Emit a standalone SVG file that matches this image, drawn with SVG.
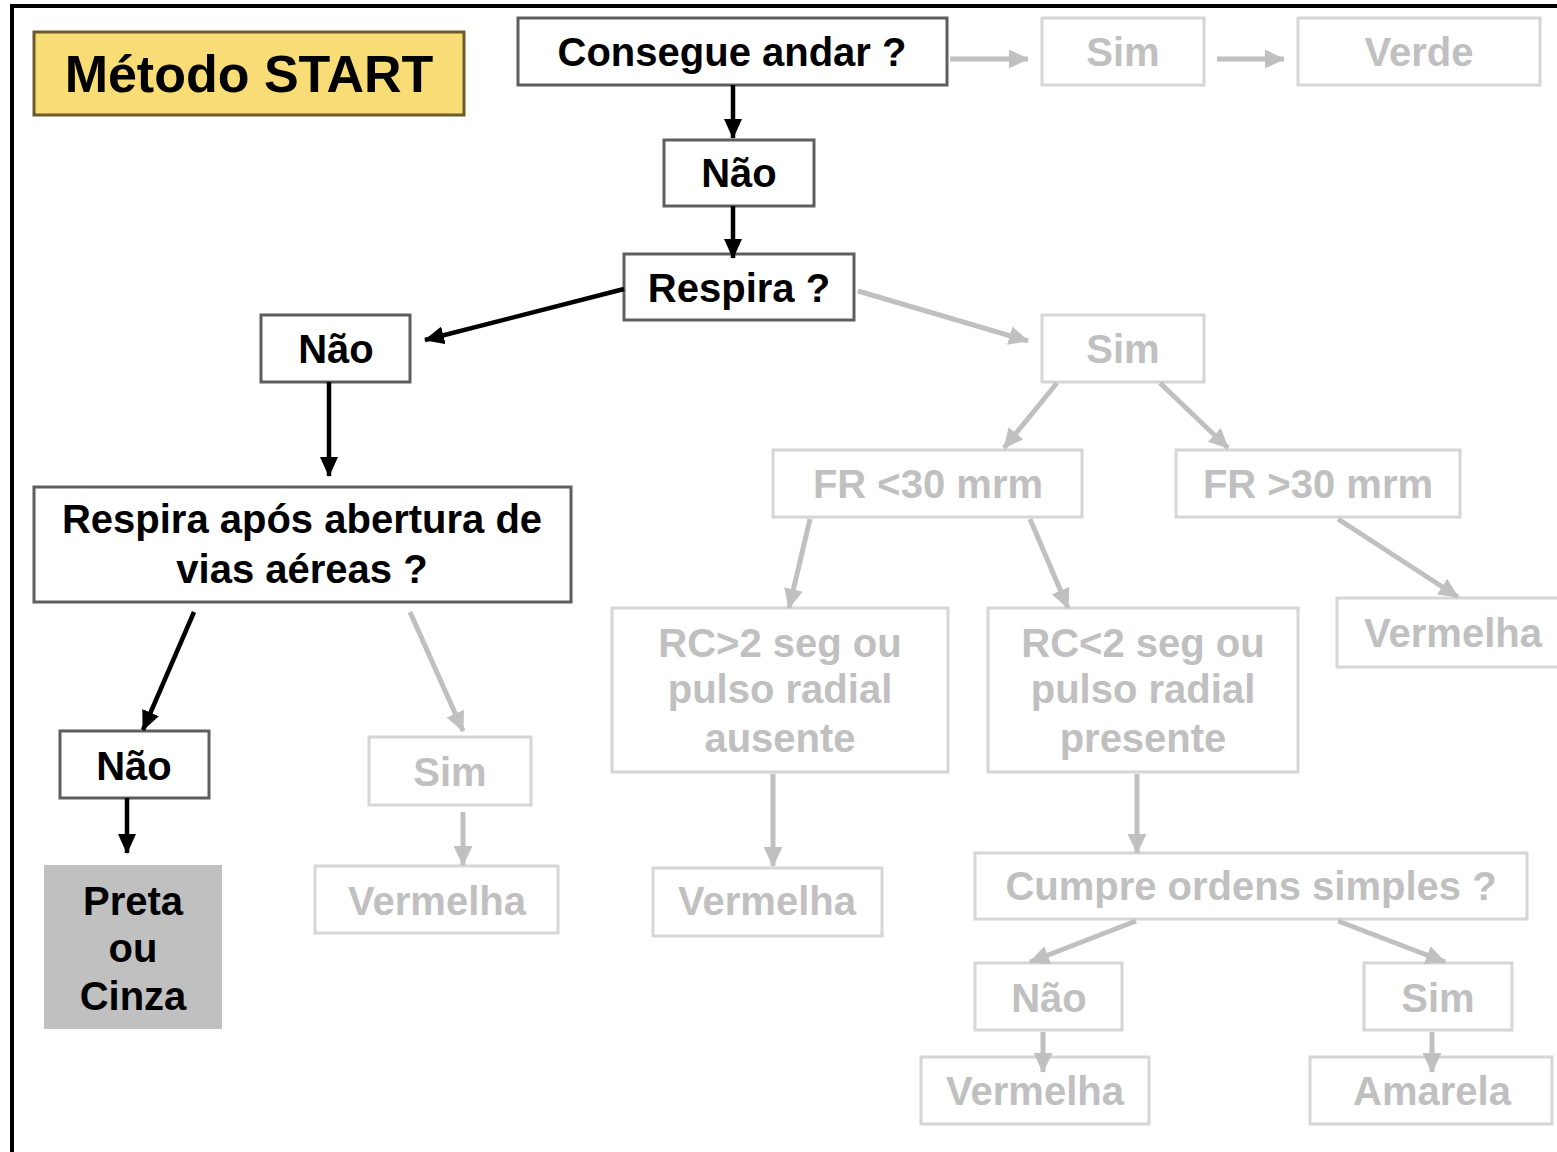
<svg xmlns="http://www.w3.org/2000/svg" width="1557" height="1152" viewBox="0 0 1557 1152">
<defs>
<marker id="ab" markerUnits="userSpaceOnUse" markerWidth="20" markerHeight="18" refX="19" refY="9" orient="auto" viewBox="0 0 20 18"><path d="M0,0 L20,9 L0,18 Z" fill="#000"/></marker>
<marker id="ag" markerUnits="userSpaceOnUse" markerWidth="20" markerHeight="19" refX="19" refY="9.5" orient="auto" viewBox="0 0 20 19"><path d="M0,0 L20,9.5 L0,19 Z" fill="#c0c0c0"/></marker>
<style>
text{font-family:"Liberation Sans",Arial,sans-serif;font-weight:bold;font-size:40px;text-anchor:middle}
.bk rect{fill:#fff;stroke:#5e5e5e;stroke-width:3}
.bk text{fill:#000}
.gr rect{fill:#fff;stroke:#d6d6d6;stroke-width:3}
.gr text{fill:#c0c0c0}
.cb{stroke:#000;stroke-width:4.5;fill:none;marker-end:url(#ab)}
.cg{stroke:#c0c0c0;stroke-width:5;fill:none;marker-end:url(#ag)}
</style>
</defs>
<rect x="0" y="0" width="1557" height="1152" fill="#fff"/>
<rect x="12" y="6" width="1600" height="1200" fill="none" stroke="#000" stroke-width="4"/>

<g id="title"><rect x="34" y="32" width="430" height="83" fill="#f8dc75" stroke="#6b5a2a" stroke-width="3"/><text x="249" y="92" style="font-size:52px">Método START</text></g>

<g id="consegue" class="bk"><rect x="518" y="18" width="429" height="67"/><text x="732" y="66">Consegue andar ?</text></g>
<g id="nao1" class="bk"><rect x="664" y="140" width="150" height="66"/><text x="739" y="187">Não</text></g>
<g id="respira" class="bk"><rect x="624" y="254" width="230" height="66"/><text x="739" y="302">Respira ?</text></g>
<g id="nao2" class="bk"><rect x="261" y="315" width="149" height="67"/><text x="336" y="363">Não</text></g>
<g id="respira_apos" class="bk"><rect x="34" y="487" width="537" height="115"/><text x="302" y="533">Respira após abertura de</text><text x="302" y="583">vias aéreas ?</text></g>
<g id="nao3" class="bk"><rect x="60" y="731" width="149" height="67"/><text x="134" y="780">Não</text></g>
<g id="preta"><rect x="44" y="865" width="178" height="164" fill="#c0c0c0"/><text x="133" y="915" fill="#000">Preta</text><text x="133" y="962" fill="#000">ou</text><text x="133" y="1010" fill="#000">Cinza</text></g>

<g id="sim_top" class="gr"><rect x="1042" y="18" width="162" height="67"/><text x="1123" y="66">Sim</text></g>
<g id="verde" class="gr"><rect x="1298" y="18" width="242" height="67"/><text x="1419" y="66">Verde</text></g>
<g id="sim_mid" class="gr"><rect x="1042" y="315" width="162" height="67"/><text x="1123" y="363">Sim</text></g>
<g id="fr_lt" class="gr"><rect x="773" y="450" width="309" height="67"/><text x="928" y="498">FR &lt;30 mrm</text></g>
<g id="fr_gt" class="gr"><rect x="1176" y="450" width="284" height="67"/><text x="1318" y="498">FR &gt;30 mrm</text></g>
<g id="vermelha_fr" class="gr"><rect x="1337" y="598" width="230" height="69"/><text x="1453" y="647">Vermelha</text></g>
<g id="rc_gt" class="gr"><rect x="612" y="608" width="336" height="164"/><text x="780" y="657">RC&gt;2 seg ou</text><text x="780" y="703">pulso radial</text><text x="780" y="752">ausente</text></g>
<g id="rc_lt" class="gr"><rect x="988" y="608" width="310" height="164"/><text x="1143" y="657">RC&lt;2 seg ou</text><text x="1143" y="703">pulso radial</text><text x="1143" y="752">presente</text></g>
<g id="sim_left" class="gr"><rect x="369" y="737" width="162" height="68"/><text x="450" y="786">Sim</text></g>
<g id="vermelha_left" class="gr"><rect x="315" y="866" width="243" height="67"/><text x="437" y="915">Vermelha</text></g>
<g id="vermelha_rc" class="gr"><rect x="653" y="868" width="229" height="68"/><text x="767" y="915">Vermelha</text></g>
<g id="cumpre" class="gr"><rect x="975" y="853" width="552" height="66"/><text x="1251" y="900">Cumpre ordens simples ?</text></g>
<g id="nao_bottom" class="gr"><rect x="975" y="963" width="147" height="67"/><text x="1049" y="1012">Não</text></g>
<g id="sim_bottom" class="gr"><rect x="1364" y="963" width="148" height="67"/><text x="1438" y="1012">Sim</text></g>
<g id="vermelha_bottom" class="gr"><rect x="921" y="1057" width="228" height="67"/><text x="1035" y="1105">Vermelha</text></g>
<g id="amarela" class="gr"><rect x="1310" y="1057" width="242" height="67"/><text x="1432" y="1105">Amarela</text></g>

<g id="connectors">
<line class="cb" x1="733" y1="85" x2="733" y2="138"/>
<line class="cb" x1="733" y1="206" x2="733" y2="258"/>
<line class="cb" x1="624" y1="289" x2="425" y2="340"/>
<line class="cb" x1="329" y1="382" x2="329" y2="476"/>
<line class="cb" x1="194" y1="612" x2="143" y2="730"/>
<line class="cb" x1="127" y1="798" x2="127" y2="853"/>
<line class="cg" x1="950" y1="59" x2="1028" y2="59"/>
<line class="cg" x1="1217" y1="59" x2="1284" y2="59"/>
<line class="cg" x1="858" y1="291" x2="1028" y2="341"/>
<line class="cg" x1="1057" y1="383" x2="1004" y2="448"/>
<line class="cg" x1="1160" y1="383" x2="1228" y2="448"/>
<line class="cg" x1="810" y1="519" x2="789" y2="608"/>
<line class="cg" x1="1030" y1="519" x2="1068" y2="608"/>
<line class="cg" x1="1338" y1="519" x2="1458" y2="597"/>
<line class="cg" x1="410" y1="612" x2="463" y2="731"/>
<line class="cg" x1="463" y1="812" x2="463" y2="865"/>
<line class="cg" x1="773" y1="774" x2="773" y2="866"/>
<line class="cg" x1="1137" y1="774" x2="1137" y2="853"/>
<line class="cg" x1="1136" y1="921" x2="1030" y2="962"/>
<line class="cg" x1="1338" y1="921" x2="1445" y2="962"/>
<line class="cg" x1="1043" y1="1032" x2="1043" y2="1072"/>
<line class="cg" x1="1432" y1="1032" x2="1432" y2="1072"/>
</g>
</svg>
